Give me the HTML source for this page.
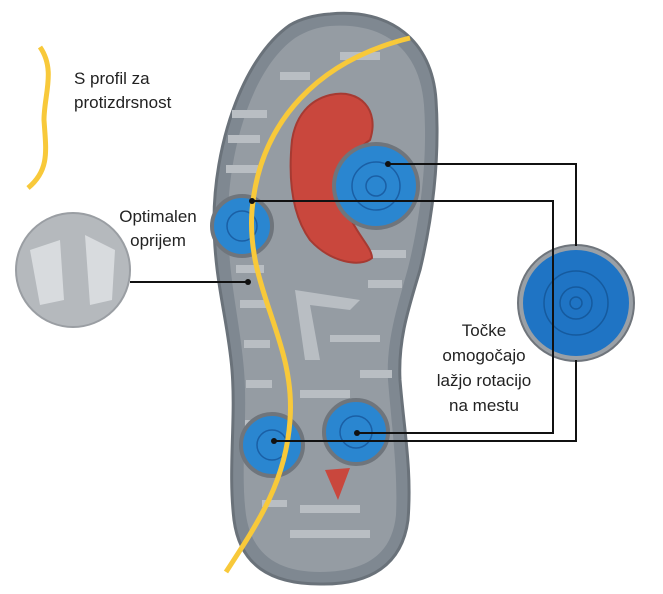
<!DOCTYPE html>
<html><head><meta charset="utf-8"><style>
html,body{margin:0;padding:0;background:#fff}
svg{display:block}
text{font-family:"Liberation Sans",sans-serif;fill:#222;font-size:17px}
</style></head><body>
<svg width="663" height="594" viewBox="0 0 663 594">
<path d="M330,14 C390,8 432,40 436,100 C440,160 432,220 420,270 C408,310 398,340 400,380 C404,430 412,470 408,520 C402,565 370,585 320,584 C270,584 240,565 234,520 C228,470 236,420 232,370 C228,320 214,280 214,220 C214,150 240,60 290,25 C302,18 316,15 330,14 Z" fill="#7f8891" stroke="#6a727a" stroke-width="3"/>
<path d="M330,26 C385,22 420,50 424,105 C428,160 420,220 408,268 C398,305 386,340 388,380 C392,430 398,470 396,515 C392,555 365,572 320,572 C278,572 252,555 246,515 C240,470 248,420 244,370 C240,320 228,280 228,220 C228,155 250,70 295,38 C306,31 318,27 330,26 Z" fill="#959ca3"/>
<g fill="#b9bec3">
<rect x="232" y="110" width="35" height="8"/><rect x="228" y="135" width="32" height="8"/><rect x="226" y="165" width="32" height="8"/>
<rect x="236" y="265" width="28" height="8"/><rect x="240" y="300" width="26" height="8"/><rect x="244" y="340" width="26" height="8"/>
<rect x="246" y="380" width="26" height="8"/><rect x="366" y="250" width="40" height="8"/><rect x="368" y="280" width="34" height="8"/>
<rect x="360" y="370" width="32" height="8"/><rect x="300" y="390" width="50" height="8"/><rect x="300" y="505" width="60" height="8"/>
<rect x="290" y="530" width="80" height="8"/><rect x="280" y="72" width="30" height="8"/><rect x="340" y="52" width="40" height="8"/>
<rect x="245" y="420" width="30" height="7"/><rect x="330" y="335" width="50" height="7"/><rect x="262" y="500" width="25" height="7"/>
<path d="M295,290 L360,300 L350,310 L310,305 L320,360 L305,360 Z"/>
</g>
<path d="M330,95 C360,88 380,110 370,140 C355,150 340,170 345,200 C350,230 372,245 372,258 C360,268 330,262 310,240 C292,215 288,180 292,140 C296,115 310,100 330,95 Z" fill="#c9473d" stroke="#a63a32" stroke-width="2"/>
<path d="M325,470 L350,468 L338,500 Z" fill="#c9473d"/>
<g stroke="#1a5fa5" stroke-width="1.5" fill="none">
<circle cx="376" cy="186" r="42" fill="#2a86d0" stroke="#6f757c" stroke-width="4"/><circle cx="376" cy="186" r="24"/><circle cx="376" cy="186" r="10"/>
<circle cx="242" cy="226" r="30" fill="#2a86d0" stroke="#6f757c" stroke-width="4"/><circle cx="242" cy="226" r="15"/>
<circle cx="272" cy="445" r="31" fill="#2a86d0" stroke="#6f757c" stroke-width="4"/><circle cx="272" cy="445" r="15"/>
<circle cx="356" cy="432" r="32" fill="#2a86d0" stroke="#6f757c" stroke-width="4"/><circle cx="356" cy="432" r="16"/>
</g>
<path d="M410,38 C320,60 260,120 252,210 C246,290 296,340 290,420 C286,480 260,520 226,572" fill="none" stroke="#f8c93a" stroke-width="5"/>
<path d="M40,47 C56,70 44,95 44,120 C46,150 50,170 28,188" fill="none" stroke="#f8c93a" stroke-width="5"/>
<circle cx="73" cy="270" r="57" fill="#b5b9bd" stroke="#9a9ea3" stroke-width="2"/>
<path d="M30,250 L60,240 L64,300 L40,305 Z M85,235 L115,250 L112,300 L90,305 Z" fill="#d8dbde"/>
<circle cx="576" cy="303" r="58" fill="#9aa0a6" stroke="#6f757c" stroke-width="2"/>
<circle cx="576" cy="303" r="53" fill="#1f74c4"/>
<g stroke="#155a9e" stroke-width="1.5" fill="none"><circle cx="576" cy="303" r="32"/><circle cx="576" cy="303" r="16"/><circle cx="576" cy="303" r="6"/></g>
<g stroke="#111" stroke-width="2" fill="none">
<polyline points="388,164 576,164 576,246"/>
<polyline points="252,201 553,201 553,433 357,433"/>
<polyline points="274,441 576,441 576,360"/>
<line x1="130" y1="282" x2="248" y2="282"/>
</g>
<g fill="#111"><circle cx="388" cy="164" r="3"/><circle cx="252" cy="201" r="3"/><circle cx="357" cy="433" r="3"/><circle cx="274" cy="441" r="3"/><circle cx="248" cy="282" r="3"/></g>
<text x="74" y="84">S profil za</text>
<text x="74" y="108">protizdrsnost</text>
<text x="158" y="222" text-anchor="middle">Optimalen</text>
<text x="158" y="246" text-anchor="middle">oprijem</text>
<g text-anchor="middle"><text x="484" y="336">Točke</text><text x="484" y="361">omogočajo</text><text x="484" y="386">lažjo rotacijo</text><text x="484" y="411">na mestu</text></g>
</svg>
</body></html>
